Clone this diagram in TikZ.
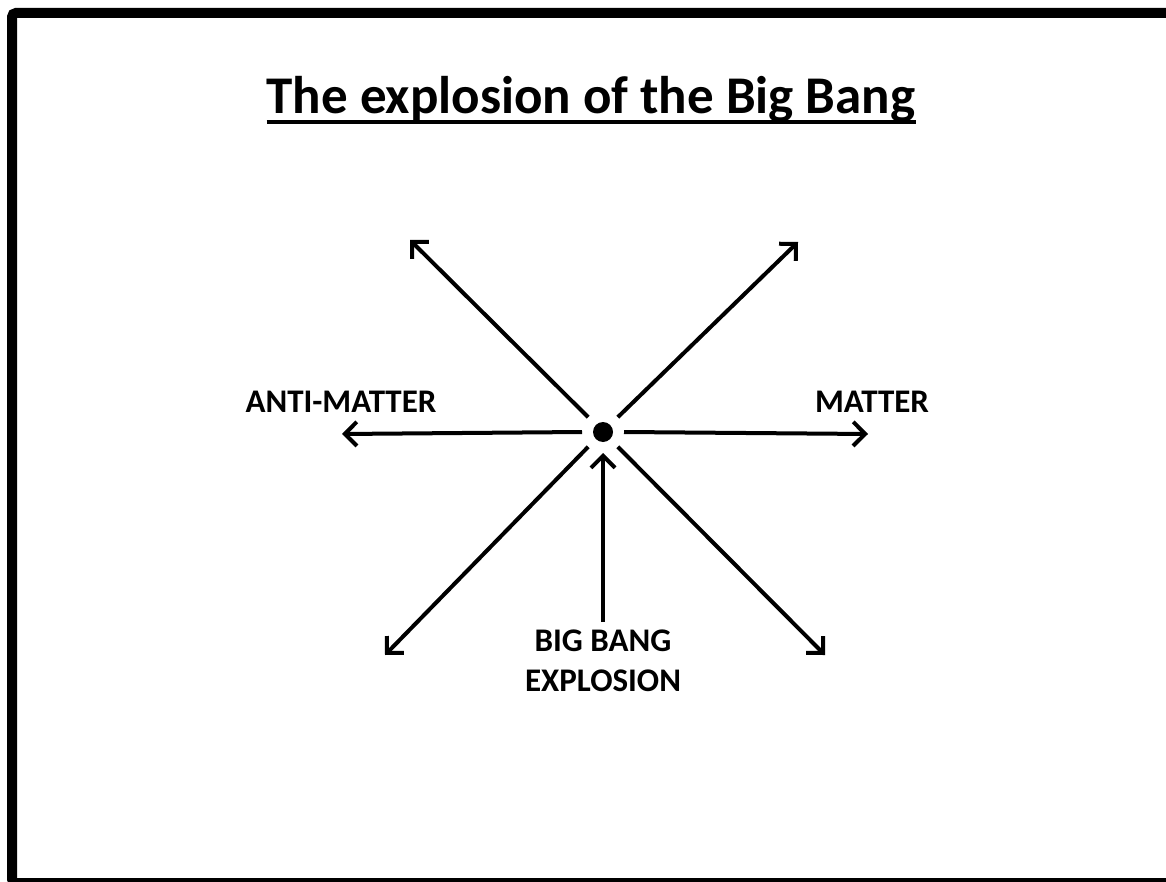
\documentclass[tikz,border=0pt]{standalone}
\usepackage{fontspec}
\setmainfont{Carlito}
\usepackage{xcolor}
\usetikzlibrary{arrows.meta}
\definecolor{bbblack}{RGB}{0,0,0}

\begin{document}
\begin{tikzpicture}[x=1pt, y=-1pt,
        ray/.style={draw=bbblack, line width=4pt, -{Straight Barb[length=12pt, width=24pt, line width=4pt]}},
        label/.style={font=\fontsize{33}{40}\selectfont\bfseries, text=bbblack, align=center, inner sep=0pt}]
    \useasboundingbox (0,0) rectangle (1166,882);
    % frame
    \draw[bbblack, line width=10pt, rounded corners=4pt] (12,13) rectangle (1171,883);
    % title
    \node[font=\fontsize{53}{60}\selectfont\bfseries, text=bbblack, inner sep=0pt, anchor=base] (title) at (591,114)
        {The explosion of the Big Bang};
    \draw[bbblack, line width=4pt] ([yshift=-8pt]title.base west) -- ([yshift=-8pt]title.base east);
    % centre point
    \node[circle, fill=bbblack, minimum size=20pt, inner sep=0pt, outer sep=11pt] (bang) at (603,432) {};
    \coordinate (ul) at (410,240);
    \coordinate (ur) at (798,242);
    \coordinate (ll) at (385,655);
    \coordinate (lr) at (825,655);
    \coordinate (lt) at (342,434);
    \coordinate (rt) at (868,434);
    \draw[ray] (bang.135) -- (ul);
    \draw[ray] (bang.45) -- (ur);
    \draw[ray] (bang.225) -- (ll);
    \draw[ray] (bang.315) -- (lr);
    \draw[ray] (bang.west) -- (lt);
    \draw[ray] (bang.east) -- (rt);
    % labels
    \node[label] (anti) at (341,402) {ANTI-MATTER};
    \node[label] (matter) at (872,402) {MATTER};
    \node[label, anchor=north] (expl) at (603,630) {BIG BANG\\EXPLOSION};
    \draw[ray, shorten <=8pt] (expl.north) -- (bang.south);
\end{tikzpicture}
\end{document}
